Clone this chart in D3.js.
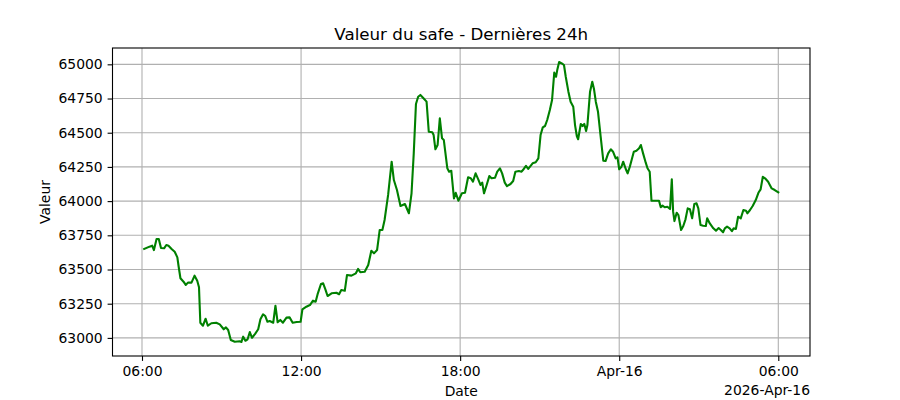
<!DOCTYPE html>
<html>
<head>
<meta charset="utf-8">
<script src="https://cdn.jsdelivr.net/npm/d3@7"></script>
<style>
  body { margin: 0; background: #fff; }
  text { font-family: "DejaVu Sans", sans-serif; fill: #000; }
</style>
</head>
<body>
<div id="chart"></div>
<script>
// figure size and axes box (matplotlib-like layout)
let svgWidth = 900;
let svgHeight = 400;
let margin = { top: 48, right: 90, bottom: 44, left: 112.5 };

// minutes since 2026-04-15 06:00
let minutes = [
  5, 17, 23, 27, 33, 38, 43, 50, 55, 60, 67, 74, 80, 83, 87, 94, 99, 104, 112, 119,
  125, 129, 132, 138, 144, 149, 157, 168, 176, 185, 190, 195, 201, 210, 221, 225, 229, 234, 239, 244,
  249, 256, 263, 268, 274, 279, 284, 289, 297, 302, 307, 313, 319, 327, 334, 341, 350, 359, 363, 372,
  380, 387, 393, 398, 405, 410, 415, 420, 429, 440, 446, 451, 459, 464, 474, 484, 489, 494, 504, 512,
  519, 525, 532, 538, 544, 549, 557, 565, 570, 577, 585, 595, 604, 610, 615, 620, 625, 630, 636, 644,
  649, 657, 660, 664, 669, 674, 679, 683, 691, 695, 700, 706, 710, 716, 724, 731, 738, 744, 749, 755,
  761, 766, 770, 774, 780, 786, 791, 799, 804, 810, 815, 821, 826, 834, 840, 845, 853, 859, 864, 869,
  874, 884, 891, 897, 902, 907, 912, 917, 923, 928, 933, 937, 940, 944, 950, 955, 959, 965, 970, 976,
  980, 984, 987, 993, 997, 1001, 1005, 1008, 1014, 1019, 1023, 1027, 1032, 1038, 1044, 1049, 1055, 1061, 1066, 1072,
  1076, 1080, 1085, 1089, 1095, 1099, 1104, 1113, 1119, 1125, 1129, 1134, 1140, 1144, 1149, 1153, 1161, 1170, 1174, 1178,
  1183, 1189, 1195, 1199, 1202, 1205, 1210, 1214, 1220, 1225, 1230, 1235, 1240, 1245, 1250, 1255, 1259, 1264, 1270, 1276,
  1279, 1285, 1293, 1299, 1305, 1310, 1315, 1319, 1324, 1330, 1335, 1339, 1344, 1349, 1355, 1361, 1367, 1370, 1376, 1382,
  1389, 1395, 1400, 1405, 1410, 1417, 1425, 1432, 1440
];

let values = [
  63650, 63667, 63674, 63642, 63723, 63723, 63657, 63655, 63679, 63674, 63650, 63630, 63589, 63520, 63436, 63411, 63387, 63404, 63404, 63455,
  63418, 63370, 63111, 63089, 63140, 63089, 63107, 63111, 63099, 63063, 63077, 63058, 62985, 62972, 62975, 62970, 63009, 62979, 62990, 63043,
  63001, 63029, 63063, 63136, 63172, 63160, 63118, 63123, 63111, 63235, 63114, 63131, 63111, 63148, 63150, 63111, 63116, 63118, 63209, 63228,
  63240, 63272, 63265, 63326, 63394, 63399, 63355, 63306, 63326, 63330, 63319, 63350, 63345, 63460, 63455, 63472, 63504, 63480, 63484, 63533,
  63637, 63618, 63642, 63789, 63789, 63862, 64045, 64288, 64154, 64081, 63964, 63979, 63911, 64057, 64349, 64710, 64763, 64776, 64756, 64727,
  64507, 64503, 64483, 64379, 64410, 64605, 64459, 64447, 64240, 64215, 64222, 64020, 64061, 64003, 64057, 64061, 64174, 64167, 64142, 64203,
  64159, 64118, 64135, 64057, 64118, 64183, 64167, 64171, 64215, 64240, 64203, 64135, 64110, 64125, 64147, 64215, 64220, 64215, 64235, 64257,
  64235, 64276, 64284, 64313, 64483, 64539, 64549, 64593, 64666, 64739, 64939, 64909, 64963, 65017, 65007, 64995, 64909, 64800, 64727, 64690,
  64556, 64476, 64452, 64564, 64549, 64564, 64512, 64556, 64800, 64873, 64817, 64727, 64653, 64471, 64295, 64293, 64349, 64379, 64361, 64313,
  64320, 64233, 64251, 64288, 64233, 64203, 64251, 64361, 64368, 64386, 64410, 64349, 64281, 64240, 64215, 64003, 64003, 64003, 63955, 63967,
  63955, 63959, 63942, 64159, 63923, 63854, 63915, 63898, 63789, 63818, 63867, 63947, 63940, 63874, 63979, 63984, 63947, 63825, 63820, 63818,
  63874, 63837, 63801, 63784, 63803, 63789, 63772, 63801, 63813, 63801, 63781, 63801, 63796, 63886, 63874, 63935, 63930, 63911, 63935, 63964,
  64008, 64061, 64086, 64178, 64167, 64142, 64093, 64081, 64064
];

let yTicks = [63000, 63250, 63500, 63750, 64000, 64250, 64500, 64750, 65000];

let titleText = "Valeur du safe - Dernières 24h";
let xLabelText = "Date";
let yLabelText = "Valeur";
let offsetText = "2026-Apr-16";

/********************************************/

let start = new Date(2026, 3, 15, 6, 0);
let data = minutes.map((m, i) => ({
  date: new Date(start.getTime() + m * 60000),
  value: values[i]
}));

let plotLeft = margin.left;
let plotRight = svgWidth - margin.right;
let plotTop = margin.top;
let plotBottom = svgHeight - margin.bottom;

// 5% padding on each side like matplotlib autoscale
function padded(ext) {
  let p = (ext[1] - ext[0]) * 0.05;
  return [ext[0] - p, ext[1] + p];
}

let xExt = d3.extent(data, d => d.date.getTime());
let xScale = d3.scaleTime()
  .domain(padded(xExt).map(t => new Date(t)))
  .range([plotLeft, plotRight]);

let yScale = d3.scaleLinear()
  .domain(padded(d3.extent(values)))
  .range([plotBottom, plotTop]);

let xTicks = d3.timeHour.every(6).range(xScale.domain()[0], xScale.domain()[1]);

function fmtX(d) {
  return d.getHours() === 0 ? d3.timeFormat("%b-%d")(d) : d3.timeFormat("%H:%M")(d);
}

let svg = d3.select("#chart")
  .append("svg")
  .attr("width", svgWidth)
  .attr("height", svgHeight);

// grid
let grid = svg.append("g").attr("stroke", "#b0b0b0").attr("stroke-width", 1.1);
grid.selectAll(".gx")
  .data(xTicks)
  .enter()
  .append("line")
  .attr("x1", d => xScale(d)).attr("x2", d => xScale(d))
  .attr("y1", plotTop).attr("y2", plotBottom);
grid.selectAll(".gy")
  .data(yTicks)
  .enter()
  .append("line")
  .attr("y1", d => yScale(d)).attr("y2", d => yScale(d))
  .attr("x1", plotLeft).attr("x2", plotRight);

// line
let line = d3.line()
  .x(d => xScale(d.date))
  .y(d => yScale(d.value));

svg.append("path")
  .datum(data)
  .attr("fill", "none")
  .attr("stroke", "#008000")
  .attr("stroke-width", 2.1)
  .attr("stroke-linejoin", "round")
  .attr("stroke-linecap", "square")
  .attr("d", line);

// axes
let xAxis = d3.axisBottom(xScale).tickValues(xTicks).tickFormat(fmtX)
  .tickSize(4.9).tickPadding(4.9);
let yAxis = d3.axisLeft(yScale).tickValues(yTicks).tickFormat(d3.format("d"))
  .tickSize(4.9).tickPadding(4.9);

let gx = svg.append("g")
  .attr("transform", `translate(0, ${plotBottom})`)
  .call(xAxis);
let gy = svg.append("g")
  .attr("transform", `translate(${plotLeft}, 0)`)
  .call(yAxis);

[gx, gy].forEach(g => {
  g.select(".domain").remove();
  g.selectAll(".tick line").attr("stroke", "#000").attr("stroke-width", 1.1);
  g.selectAll(".tick text")
    .attr("font-family", "DejaVu Sans, sans-serif")
    .attr("font-size", 13.9)
    .attr("fill", "#000");
});

// frame
svg.append("rect")
  .attr("x", plotLeft).attr("y", plotTop)
  .attr("width", plotRight - plotLeft).attr("height", plotBottom - plotTop)
  .attr("fill", "none")
  .attr("stroke", "#000")
  .attr("stroke-width", 1.1);

// texts
svg.append("text")
  .attr("x", (plotLeft + plotRight) / 2).attr("y", 40)
  .attr("text-anchor", "middle")
  .attr("font-size", 16.7)
  .text(titleText);

svg.append("text")
  .attr("x", (plotLeft + plotRight) / 2).attr("y", 396)
  .attr("text-anchor", "middle")
  .attr("font-size", 13.9)
  .text(xLabelText);

svg.append("text")
  .attr("x", plotRight).attr("y", 395)
  .attr("text-anchor", "end")
  .attr("font-size", 13.9)
  .text(offsetText);

svg.append("text")
  .attr("transform", `translate(50, ${(plotTop + plotBottom) / 2}) rotate(-90)`)
  .attr("text-anchor", "middle")
  .attr("font-size", 13.9)
  .text(yLabelText);
</script>
</body>
</html>
